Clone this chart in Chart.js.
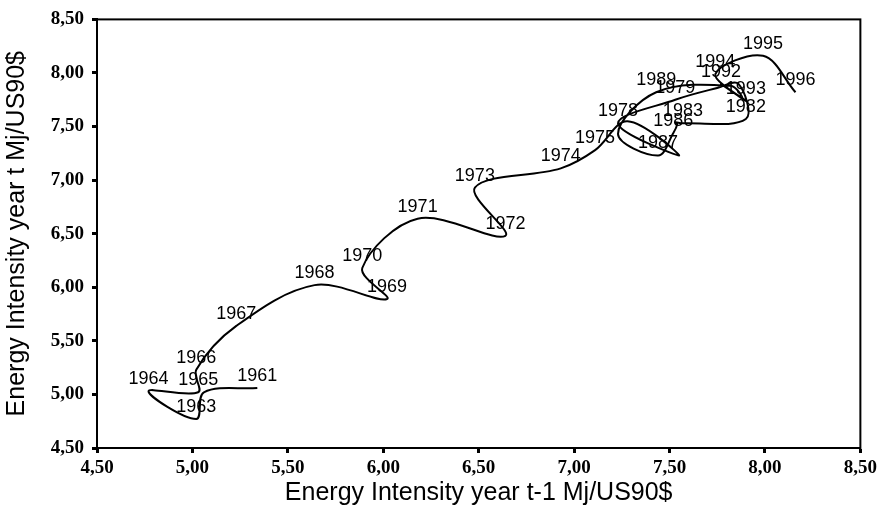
<!DOCTYPE html>
<html>
<head>
<meta charset="utf-8">
<script src="https://cdn.jsdelivr.net/npm/chart.js@4.4.0/dist/chart.umd.min.js"></script>
<style>
  html, body { margin: 0; padding: 0; background: #fff; }
</style>
</head>
<body>
<canvas id="myChart" width="881" height="520"></canvas>
<script>
// energy intensity per year (Mj/US90$), 1960-1996
const years = [1960, 1961, 1962, 1963, 1964, 1965, 1966, 1967, 1968, 1969,
               1970, 1971, 1972, 1973, 1974, 1975, 1976, 1977, 1978, 1979,
               1980, 1981, 1982, 1983, 1984, 1985, 1986, 1987, 1988, 1989,
               1990, 1991, 1992, 1993, 1994, 1995, 1996];
const intensity = [5.34, 5.06, 5.02, 4.77, 5.03, 5.02, 5.23, 5.64, 6.02, 5.89,
                   6.18, 6.64, 6.48, 6.93, 7.11, 7.28, 7.55, 7.23, 7.53, 7.75,
                   7.86, 7.90, 7.57, 7.53, 7.54, 7.52, 7.44, 7.23, 7.43, 7.82,
                   7.88, 7.77, 7.90, 7.74, 7.99, 8.16, 7.82];
const tickValues = [4.5, 5.0, 5.5, 6.0, 6.5, 7.0, 7.5, 8.0, 8.5];
// these labels sit under other labels in the original and can't be seen
const hiddenYears = [1962, 1976, 1977, 1980, 1981, 1984, 1985, 1988, 1990, 1991];

// each point: x = intensity of previous year, y = intensity of this year
const points = [];
for (let i = 1; i < years.length; i++) {
    points.push({ x: intensity[i - 1], y: intensity[i], year: years[i] });
}

const fmt = v => Number(v).toFixed(2).replace('.', ',');

const yearLabels = {
    id: 'yearLabels',
    afterDatasetsDraw(chart) {
        const ctx = chart.ctx;
        const meta = chart.getDatasetMeta(0);
        ctx.save();
        ctx.font = '18px "Liberation Sans", Arial, sans-serif';
        ctx.fillStyle = '#000';
        ctx.textAlign = 'center';
        ctx.textBaseline = 'middle';
        meta.data.forEach((el, i) => {
            if (hiddenYears.includes(points[i].year)) return;
            ctx.fillText(String(points[i].year), el.x, el.y - 12);
        });
        ctx.restore();
    }
};

const frame = {
    id: 'frame',
    afterDraw(chart) {
        const a = chart.chartArea;
        const ctx = chart.ctx;
        ctx.save();
        ctx.strokeStyle = '#000';
        ctx.lineWidth = 2;
        ctx.strokeRect(a.left, a.top, a.right - a.left, a.bottom - a.top);
        ctx.restore();
    }
};

const tickFont = { family: '"Liberation Serif", "Times New Roman", serif', size: 19, weight: 'bold' };
const titleFont = { family: '"Liberation Sans", Arial, sans-serif', size: 25 };

const ctx = document.getElementById('myChart').getContext('2d');
const myChart = new Chart(ctx, {
    type: 'scatter',
    data: {
        datasets: [{
            data: points,
            showLine: true,
            tension: 0.35,
            borderColor: '#000',
            borderWidth: 2,
            pointRadius: 0,
            fill: false
        }]
    },
    options: {
        responsive: false,
        animation: false,
        devicePixelRatio: 1,
        layout: { padding: { top: 13, right: 19, left: 0, bottom: 0 } },
        plugins: { legend: { display: false }, tooltip: { enabled: false } },
        scales: {
            x: {
                min: 4.5, max: 8.5,
                afterBuildTicks: s => { s.ticks = tickValues.map(v => ({ value: v })); },
                afterFit: s => { s.height = 72; },
                ticks: { callback: fmt, color: '#000', font: tickFont, padding: 4, maxRotation: 0, autoSkip: false },
                grid: { drawOnChartArea: false, color: '#000', tickLength: 5, tickWidth: 3 },
                border: { color: '#000', width: 2 },
                title: { display: true, text: 'Energy Intensity year t-1 Mj/US90$', color: '#000', font: titleFont, padding: { top: 0, bottom: 12 } }
            },
            y: {
                min: 4.5, max: 8.5,
                afterBuildTicks: s => { s.ticks = tickValues.map(v => ({ value: v })); },
                afterFit: s => { s.width = 97; },
                ticks: { callback: fmt, color: '#000', font: tickFont, padding: 8, autoSkip: false },
                grid: { drawOnChartArea: false, color: '#000', tickLength: 5, tickWidth: 3 },
                border: { color: '#000', width: 2 },
                title: { display: true, text: 'Energy Intensity year t Mj/US90$', color: '#000', font: titleFont, padding: { top: 2, bottom: 0 } }
            }
        }
    },
    plugins: [yearLabels, frame]
});
</script>
</body>
</html>
